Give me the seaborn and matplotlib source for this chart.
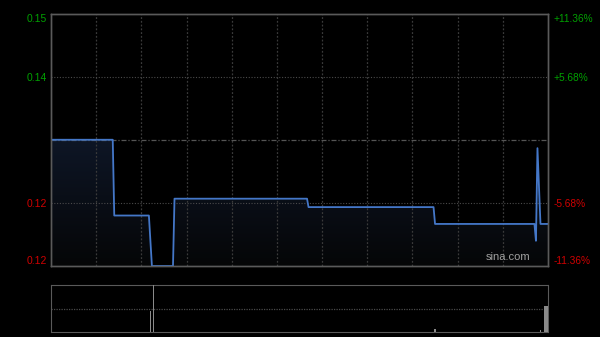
import numpy as np
import pandas as pd
import matplotlib
matplotlib.use("Agg")
import matplotlib.pyplot as plt
from matplotlib.colors import LinearSegmentedColormap
import seaborn as sns

# ---- data ----
prev_close = 0.132
minutes = [0, 41, 42, 65, 67, 81, 82, 170, 171, 254, 255, 321, 322, 323, 325, 330]
prices = [0.132, 0.132, 0.123, 0.123, 0.117, 0.117, 0.125, 0.125, 0.124, 0.124,
          0.122, 0.122, 0.120, 0.131, 0.122, 0.122]
vol_minutes = [66, 68, 255, 325, 328, 329, 330]
vol_values = [45, 100, 6, 4, 55, 55, 55]
pct_levels = [0.1136, 0.0568, -0.0568, -0.1136]
grid_minutes = [30, 60, 90, 120, 150, 180, 210, 240, 270, 300]

sns.set_style("dark", {"axes.facecolor": "black", "figure.facecolor": "black"})
plt.rcParams['font.family'] = ['Liberation Sans', 'DejaVu Sans']

df = pd.DataFrame({"minute": minutes, "price": prices})

fig = plt.figure(figsize=(6, 3.37), dpi=100)
fig.patch.set_facecolor("black")
L, R = 51 / 600, 548 / 600
ax = fig.add_axes([L, 1 - 266 / 337, R - L, (266 - 13.5) / 337])
axv = fig.add_axes([L, 1 - 332 / 337, R - L, (332 - 285) / 337])

lo = prev_close * (1 + pct_levels[-1])
hi = prev_close * (1 + pct_levels[0])
ax.set_xlim(0, 330)
ax.set_ylim(lo, hi)
ax.set_facecolor("black")

# gradient fill under the line
grad = np.linspace(0, 1, 256).reshape(-1, 1)
cmap = LinearSegmentedColormap.from_list("g", ["#050607", "#0e1626"])
im = ax.imshow(grad, extent=[0, 330, lo, max(prices)], origin="lower",
               aspect="auto", cmap=cmap, zorder=1)
poly = ax.fill_between(df["minute"], df["price"], lo, color="none", lw=0, zorder=1)
im.set_clip_path(poly.get_paths()[0], transform=ax.transData)

# grid
for m in grid_minutes:
    ax.axvline(m, color="#3a3a3a", lw=0.9, ls=(0, (1.5, 1.5)), zorder=2)
for p in [0.0568, -0.0568]:
    ax.axhline(prev_close * (1 + p), color="#4a4a4a", lw=0.8, ls=(0, (1, 1.5)), zorder=2)
ax.axhline(prev_close, color="#555555", lw=0.9, ls=(0, (4, 1.5, 1, 1.5)), zorder=2)

sns.lineplot(data=df, x="minute", y="price", ax=ax, color="#4477c8", lw=1.3, zorder=4)

ticks = [prev_close * (1 + p) for p in pct_levels]
ax.set_yticks(ticks)
ax.set_yticklabels([f"{t:.2f}" for t in ticks])
ax.set_xticks([])
ax.set_xlabel("")
ax.set_ylabel("")
ax.tick_params(axis="y", length=0, pad=3, labelsize=7.5)
for lab, p in zip(ax.get_yticklabels(), pct_levels):
    lab.set_color("#00a000" if p > 0 else "#d00000")
labs = ax.get_yticklabels()
labs[0].set_verticalalignment("top")
labs[-1].set_verticalalignment("bottom")

axr = ax.twinx()
axr.set_ylim(lo, hi)
axr.set_yticks(ticks)
axr.set_yticklabels([f"{p*100:+.2f}%" for p in pct_levels])
axr.tick_params(axis="y", length=0, pad=4, labelsize=7.3)
for lab, p in zip(axr.get_yticklabels(), pct_levels):
    lab.set_color("#00a000" if p > 0 else "#d00000")
rl = axr.get_yticklabels()
rl[0].set_verticalalignment("top")
rl[-1].set_verticalalignment("bottom")

for a in (ax, axr):
    for s in a.spines.values():
        s.set_color("#5a5a5a")
        s.set_linewidth(1.0)
axr.grid(False)
ax.grid(False)

ax.text(0.965, 0.015, "sina.com", transform=ax.transAxes, ha="right", va="bottom",
        color="#a0a0a0", fontsize=8, zorder=5)

# volume panel
axv.set_facecolor("black")
axv.set_xlim(0, 330)
axv.set_ylim(0, 100)
axv.bar(vol_minutes, vol_values, width=0.9, color="#8a8a8a", edgecolor="none",
        linewidth=0, zorder=3)
axv.axhline(50, color="#4a4a4a", lw=0.9, ls=(0, (1, 1)))
axv.set_xticks([])
axv.set_yticks([])
axv.grid(False)
for side in ("top", "bottom"):
    axv.spines[side].set_color("#5a5a5a")
    axv.spines[side].set_linestyle((0, (1, 1)))
for side in ("left", "right"):
    axv.spines[side].set_color("#5a5a5a")

fig.savefig("out.png", dpi=100, facecolor="black")
